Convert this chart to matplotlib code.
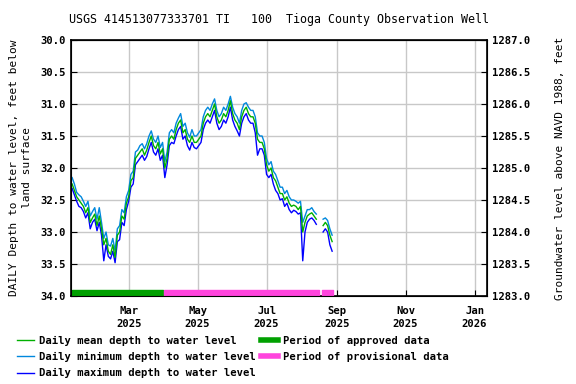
import numpy as np
import pandas as pd
import matplotlib
matplotlib.use('Agg')
import matplotlib.pyplot as plt
import matplotlib.dates as mdates

mean_1 = [32.25, 32.35, 32.45, 32.5, 32.55, 32.6, 32.7, 32.62, 32.85, 32.78, 32.72, 32.9, 32.75, 32.95,
          33.2, 33.1, 33.3, 33.35, 33.2, 33.4, 33.05, 33.0, 32.75, 32.8, 32.55, 32.45, 32.2, 32.15,
          31.85, 31.8, 31.75, 31.7, 31.8, 31.72, 31.6, 31.5, 31.65, 31.7, 31.6, 31.78, 31.7, 32.0,
          31.85, 31.55, 31.5, 31.55, 31.4, 31.3, 31.25, 31.45, 31.4, 31.55, 31.6, 31.5, 31.6, 31.6,
          31.55, 31.5, 31.3, 31.2, 31.15, 31.2, 31.1, 31.0, 31.2, 31.3, 31.25, 31.15, 31.2, 31.1,
          30.95, 31.15, 31.25, 31.3, 31.4, 31.2, 31.1, 31.05, 31.15, 31.2, 31.2, 31.3, 31.55, 31.6,
          31.6, 31.7, 31.95, 32.05, 32.0, 32.15, 32.2, 32.3, 32.4, 32.4, 32.5, 32.45, 32.55, 32.6,
          32.58, 32.6, 32.65, 32.6, 33.0, 32.85, 32.75, 32.72, 32.7, 32.75, 32.8]
min_1 = [32.15, 32.25, 32.38, 32.42, 32.45, 32.52, 32.6, 32.52, 32.75, 32.68, 32.62, 32.8, 32.62, 32.85,
         33.1, 33.0, 33.2, 33.22, 33.1, 33.3, 32.95, 32.9, 32.65, 32.7, 32.45, 32.35, 32.1, 32.05,
         31.75, 31.72, 31.65, 31.62, 31.7, 31.62, 31.5, 31.42, 31.55, 31.6, 31.5, 31.68, 31.6, 31.9,
         31.75, 31.45, 31.4, 31.45, 31.3, 31.22, 31.15, 31.35, 31.3, 31.45, 31.52, 31.4, 31.5, 31.5,
         31.45, 31.4, 31.2, 31.1, 31.05, 31.1, 31.0, 30.92, 31.1, 31.2, 31.15, 31.05, 31.1, 31.0,
         30.88, 31.05, 31.15, 31.2, 31.3, 31.1, 31.0, 30.98, 31.05, 31.1, 31.1, 31.2, 31.45, 31.5,
         31.5, 31.6, 31.85, 31.95, 31.9, 32.05, 32.1, 32.2, 32.3, 32.3, 32.4, 32.35, 32.45, 32.5,
         32.5, 32.52, 32.55, 32.52, 32.85, 32.75, 32.65, 32.65, 32.62, 32.68, 32.72]
max_1 = [32.32, 32.42, 32.52, 32.6, 32.62, 32.68, 32.78, 32.7, 32.95, 32.85, 32.8, 32.98, 32.85, 33.05,
         33.45, 33.2, 33.38, 33.42, 33.3, 33.48, 33.15, 33.12, 32.85, 32.9, 32.65, 32.52, 32.3, 32.25,
         31.95, 31.9, 31.85, 31.8, 31.88, 31.82, 31.7, 31.6, 31.75, 31.8, 31.7, 31.88, 31.8, 32.15,
         31.95, 31.65, 31.6, 31.62, 31.5, 31.4, 31.35, 31.55, 31.5, 31.65, 31.72, 31.6, 31.68, 31.7,
         31.65, 31.6, 31.4, 31.3, 31.25, 31.3, 31.2, 31.1, 31.3, 31.4, 31.35, 31.25, 31.3, 31.2,
         31.05, 31.25, 31.35, 31.42, 31.5, 31.3, 31.2, 31.15, 31.25, 31.3, 31.3, 31.45, 31.8, 31.7,
         31.7, 31.8, 32.1, 32.15, 32.1, 32.25, 32.35, 32.4, 32.5, 32.48, 32.6, 32.55, 32.65, 32.7,
         32.66, 32.68, 32.72, 32.7, 33.45, 33.0, 32.85, 32.8, 32.78, 32.82, 32.88]
mean_2 = [32.9, 32.85, 32.9, 33.05, 33.15]
min_2 = [32.8, 32.78, 32.82, 32.95, 33.05]
max_2 = [33.0, 32.95, 33.0, 33.2, 33.3]
start_1 = '2025-01-10'
start_2 = '2025-08-20'

approved = [('2025-01-10', '2025-03-31')]
provisional = [('2025-04-01', '2025-08-16'), ('2025-08-19', '2025-08-29')]

dates = list(pd.date_range(start_1, periods=len(mean_1), freq='2D')) + [pd.Timestamp('2025-08-17')] + \
        list(pd.date_range(start_2, periods=len(mean_2), freq='2D'))
mean = mean_1 + [np.nan] + mean_2
dmin = min_1 + [np.nan] + min_2
dmax = max_1 + [np.nan] + max_2

plt.rcParams['font.family'] = 'DejaVu Sans Mono'
plt.rcParams['font.weight'] = 'bold'
plt.rcParams['font.size'] = 7.6

fig = plt.figure(figsize=(5.76, 3.84), dpi=100)
ax = fig.add_axes([71/576, 88/384, 416/576, 256/384])

ax.plot(dates, mean, color='#00b000', lw=1, label='Daily mean depth to water level', zorder=3)
ax.plot(dates, dmin, color='#0088dd', lw=1, label='Daily minimum depth to water level', zorder=2)
ax.plot(dates, dmax, color='#0000ff', lw=1, label='Daily maximum depth to water level', zorder=1)

for s, e in approved:
    a, b = mdates.date2num(pd.Timestamp(s)), mdates.date2num(pd.Timestamp(e))
    ax.broken_barh([(a, b - a)], (33.91, 0.075), color='#00a000', zorder=4)
for s, e in provisional:
    a, b = mdates.date2num(pd.Timestamp(s)), mdates.date2num(pd.Timestamp(e))
    ax.broken_barh([(a, b - a)], (33.91, 0.075), color='#ff44dd', zorder=4)
ax.plot([], [], color='#00a000', lw=4, label='Period of approved data')
ax.plot([], [], color='#ff44dd', lw=4, label='Period of provisional data')

ax.set_xlim(pd.Timestamp('2025-01-09'), pd.Timestamp('2026-01-12'))
ax.set_ylim(34.0, 30.0)
ax.set_yticks(np.arange(30.0, 34.01, 0.5))
ax.yaxis.set_major_formatter(matplotlib.ticker.FormatStrFormatter('%.1f'))
ax.xaxis.set_major_locator(mdates.MonthLocator(bymonth=[1, 3, 5, 7, 9, 11]))
ax.xaxis.set_major_formatter(mdates.DateFormatter('%b\n%Y'))
for t in ax.get_xticklabels():
    t.set_linespacing(1.35)
ax.grid(True, color='#c8c8c8', lw=1)
ax.set_axisbelow(True)
ax.tick_params(direction='in', length=4)
ax.tick_params(axis='x', pad=7)
for sp in ax.spines.values():
    sp.set_linewidth(1.2)

ax2 = ax.twinx()
ax2.set_ylim(1283.0, 1287.0)
ax2.set_yticks(np.arange(1283.0, 1287.01, 0.5))
ax2.yaxis.set_major_formatter(matplotlib.ticker.FormatStrFormatter('%.1f'))
ax2.tick_params(direction='in', length=4)
ax2.set_ylabel('Groundwater level above NAVD 1988, feet', fontsize=8, labelpad=18)

ax.set_ylabel('DAILY Depth to water level, feet below\nland surface', fontsize=8, labelpad=6,
              linespacing=1.45)
ax.set_title('USGS 414513077333701 TI   100  Tioga County Observation Well', fontsize=8.4, pad=12)

h, l = ax.get_legend_handles_labels()
fig.legend(h, l, ncol=2, loc='upper left', bbox_to_anchor=(0.022, 0.137), frameon=False,
           fontsize=7.6, handlelength=1.6, handletextpad=0.5, columnspacing=0.5,
           labelspacing=0.6, borderaxespad=0)

fig.savefig('out.png', dpi=100)
